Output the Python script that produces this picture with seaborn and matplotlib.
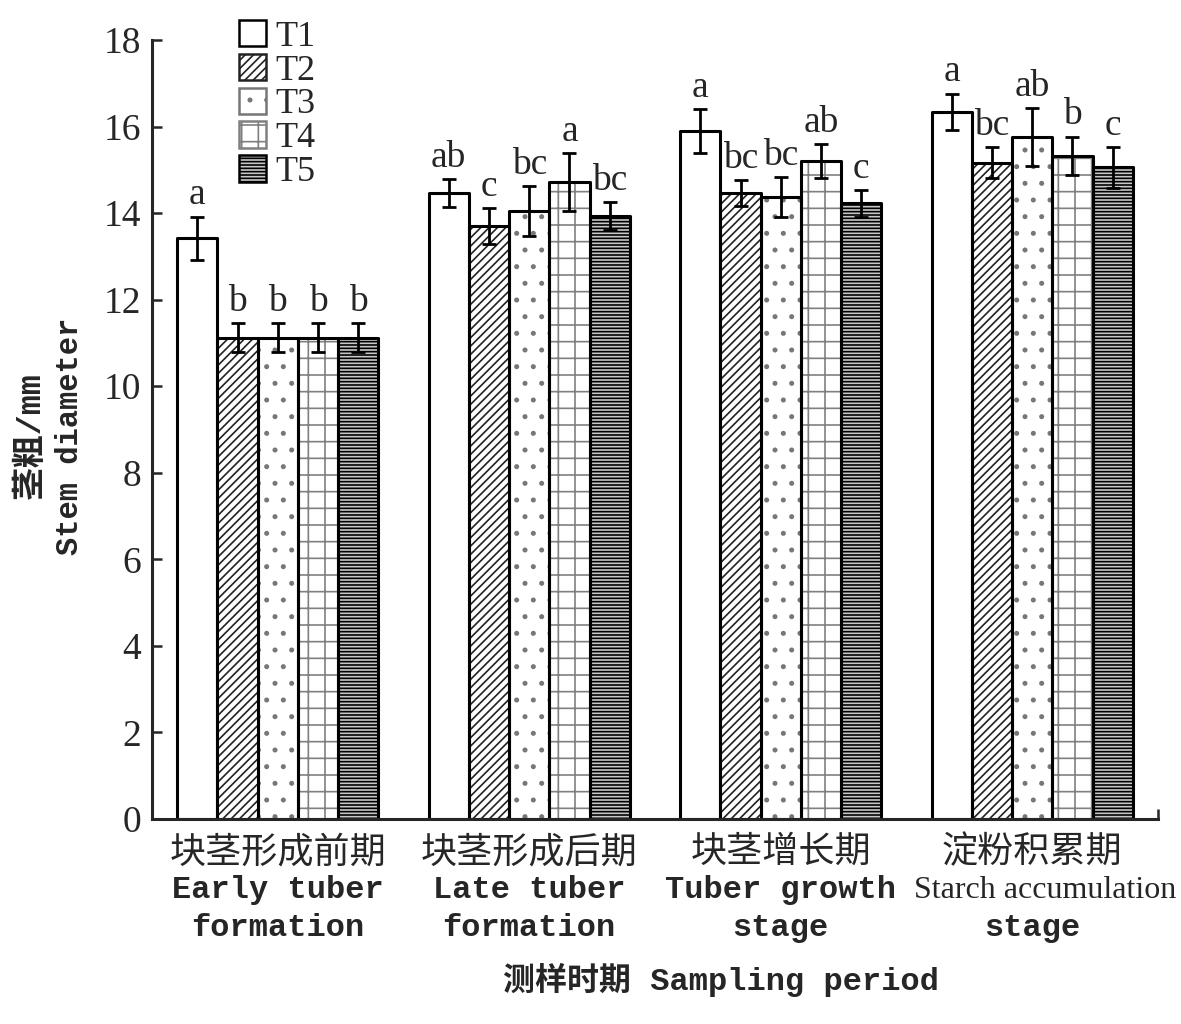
import numpy as np
import pandas as pd
import matplotlib
matplotlib.use("Agg")
import matplotlib.pyplot as plt
import matplotlib.transforms as mtransforms
from matplotlib.patches import Rectangle
import seaborn as sns

# ---------------- data ----------------
periods_cn = ["块茎形成前期", "块茎形成后期", "块茎增长期", "淀粉积累期"]
periods_en1 = ["Early tuber", "Late tuber", "Tuber growth", "Starch accumulation"]
periods_en2 = ["formation", "formation", "stage", "stage"]
treatments = ["T1", "T2", "T3", "T4", "T5"]

mean_T1 = [13.42, 14.46, 15.90, 16.34]
mean_T2 = [11.12, 13.70, 14.46, 15.16]
mean_T3 = [11.12, 14.05, 14.37, 15.76]
mean_T4 = [11.12, 14.72, 15.20, 15.32]
mean_T5 = [11.12, 13.93, 14.23, 15.06]

err_T1 = [0.50, 0.32, 0.50, 0.42]
err_T2 = [0.34, 0.42, 0.30, 0.36]
err_T3 = [0.34, 0.58, 0.46, 0.67]
err_T4 = [0.34, 0.67, 0.40, 0.45]
err_T5 = [0.34, 0.33, 0.31, 0.47]

sig_T1 = ["a", "ab", "a", "a"]
sig_T2 = ["b", "c", "bc", "bc"]
sig_T3 = ["b", "bc", "bc", "ab"]
sig_T4 = ["b", "a", "ab", "b"]
sig_T5 = ["b", "bc", "c", "c"]

yticks = [0, 2, 4, 6, 8, 10, 12, 14, 16, 18]

means = [mean_T1, mean_T2, mean_T3, mean_T4, mean_T5]
errs = [err_T1, err_T2, err_T3, err_T4, err_T5]
sigs = [sig_T1, sig_T2, sig_T3, sig_T4, sig_T5]

rows = []
for t, m in zip(treatments, means):
    for p, v in zip(periods_cn, m):
        rows.append({"period": p, "treatment": t, "value": v})
df = pd.DataFrame(rows)

# ---------------- style ----------------
sns.set_style("ticks")
plt.rcParams["font.family"] = ["Liberation Serif", "Noto Sans CJK SC", "DejaVu Sans"]
plt.rcParams["hatch.linewidth"] = 1.2

MONO = ["Liberation Mono", "Noto Sans CJK SC", "DejaVu Sans"]
CJK = ["Noto Sans CJK SC", "Liberation Mono", "DejaVu Sans"]

fig = plt.figure(figsize=(11.81, 10.24), dpi=100)
ax = fig.add_axes([152 / 1181, 1 - 819 / 1024, (1158 - 152) / 1181, (819 - 40) / 1024])

sns.barplot(data=df, x="period", y="value", hue="treatment", order=periods_cn,
            hue_order=treatments, palette=["white"] * 5, width=0.8, gap=0,
            errorbar=None, ax=ax, legend=False)

bar_containers = list(ax.containers)

hatches = ["", "////", ".", "+", "-----"]
hatch_cols = ["black", "#222222", "#777777", "#808080", "black"]
fills = ["white", "white", "white", "white", "#c8c8c8"]

for i, cont in enumerate(bar_containers):
    for bar in cont.patches:
        bar.set_facecolor(fills[i])
        bar.set_hatch(hatches[i])
        bar.set_edgecolor(hatch_cols[i])
        bar.set_linewidth(0)
        outline = Rectangle(bar.get_xy(), bar.get_width(), bar.get_height(),
                            fill=False, edgecolor="black", linewidth=2.2,
                            joinstyle="round", zorder=bar.get_zorder() + 0.1)
        ax.add_patch(outline)

# error bars and significance letters
for i, cont in enumerate(bar_containers):
    xs = [b.get_x() + b.get_width() / 2 for b in cont.patches]
    ax.errorbar(xs, means[i], yerr=errs[i], fmt="none", ecolor="black",
                elinewidth=2.0, capsize=5, capthick=2.0, zorder=5)
    for x, m, e, s in zip(xs, means[i], errs[i], sigs[i]):
        ax.annotate(s, (x, m + e), xytext=(0, 3), textcoords="offset points",
                    ha="center", va="bottom", fontsize=27,
                    family=["Liberation Serif"])

# axes
ax.set_ylim(0, 18)
ax.set_xlim(-0.5, 3.5)
ax.set_yticks(yticks)
ax.set_yticklabels([str(v) for v in yticks], fontsize=27)
ax.set_xticks([])
ax.set_xticks([3.5], minor=True)
ax.tick_params(axis="x", which="minor", direction="in", length=7, width=1.8)
ax.tick_params(axis="y", direction="in", length=7, width=1.8, pad=8)
ax.set_xlabel("")
ax.set_ylabel("")
for sp in ["top", "right"]:
    ax.spines[sp].set_visible(False)
for sp in ["left", "bottom"]:
    ax.spines[sp].set_linewidth(2.2)

# category labels (three lines)
trans = mtransforms.blended_transform_factory(ax.transData, fig.transFigure)
for j in range(len(periods_cn)):
    ax.text(j, 1 - 852 / 1024, periods_cn[j], transform=trans, ha="center",
            va="center", fontsize=26, family=CJK, weight="medium")
    en1 = periods_en1[j]
    if len(en1) > 14:
        ax.text(j + 0.05, 1 - 890 / 1024, en1, transform=trans, ha="center",
                va="center", fontsize=23, family=["Liberation Sans Narrow", "Liberation Serif"])
    else:
        ax.text(j, 1 - 890 / 1024, en1, transform=trans, ha="center",
                va="center", fontsize=23, family=MONO, weight="bold")
    ax.text(j, 1 - 928 / 1024, periods_en2[j], transform=trans, ha="center",
            va="center", fontsize=23, family=MONO, weight="bold")

fig.text(721 / 1181, 1 - 980 / 1024, "测样时期 Sampling period", ha="center",
         va="center", fontsize=23, family=MONO, weight="bold")
fig.text(31 / 1181, 1 - 436 / 1024, "茎粗/mm", rotation=90, ha="center",
         va="center", fontsize=24, family=MONO, weight="bold")
fig.text(70 / 1181, 1 - 436 / 1024, "Stem diameter", rotation=90, ha="center",
         va="center", fontsize=22, family=MONO, weight="bold")

# legend
handles = [cont.patches[0] for cont in bar_containers]
leg = fig.legend(handles, treatments, loc="upper left",
                 bbox_to_anchor=(239 / 1181, 1 - 20 / 1024), frameon=False,
                 fontsize=26, handlelength=0.75, handleheight=0.75,
                 handletextpad=0.25, labelspacing=0.0, borderpad=0,
                 borderaxespad=0)
for h in leg.legend_handles:
    h.set_linewidth(1.8)

fig.savefig("out.png", dpi=100)
